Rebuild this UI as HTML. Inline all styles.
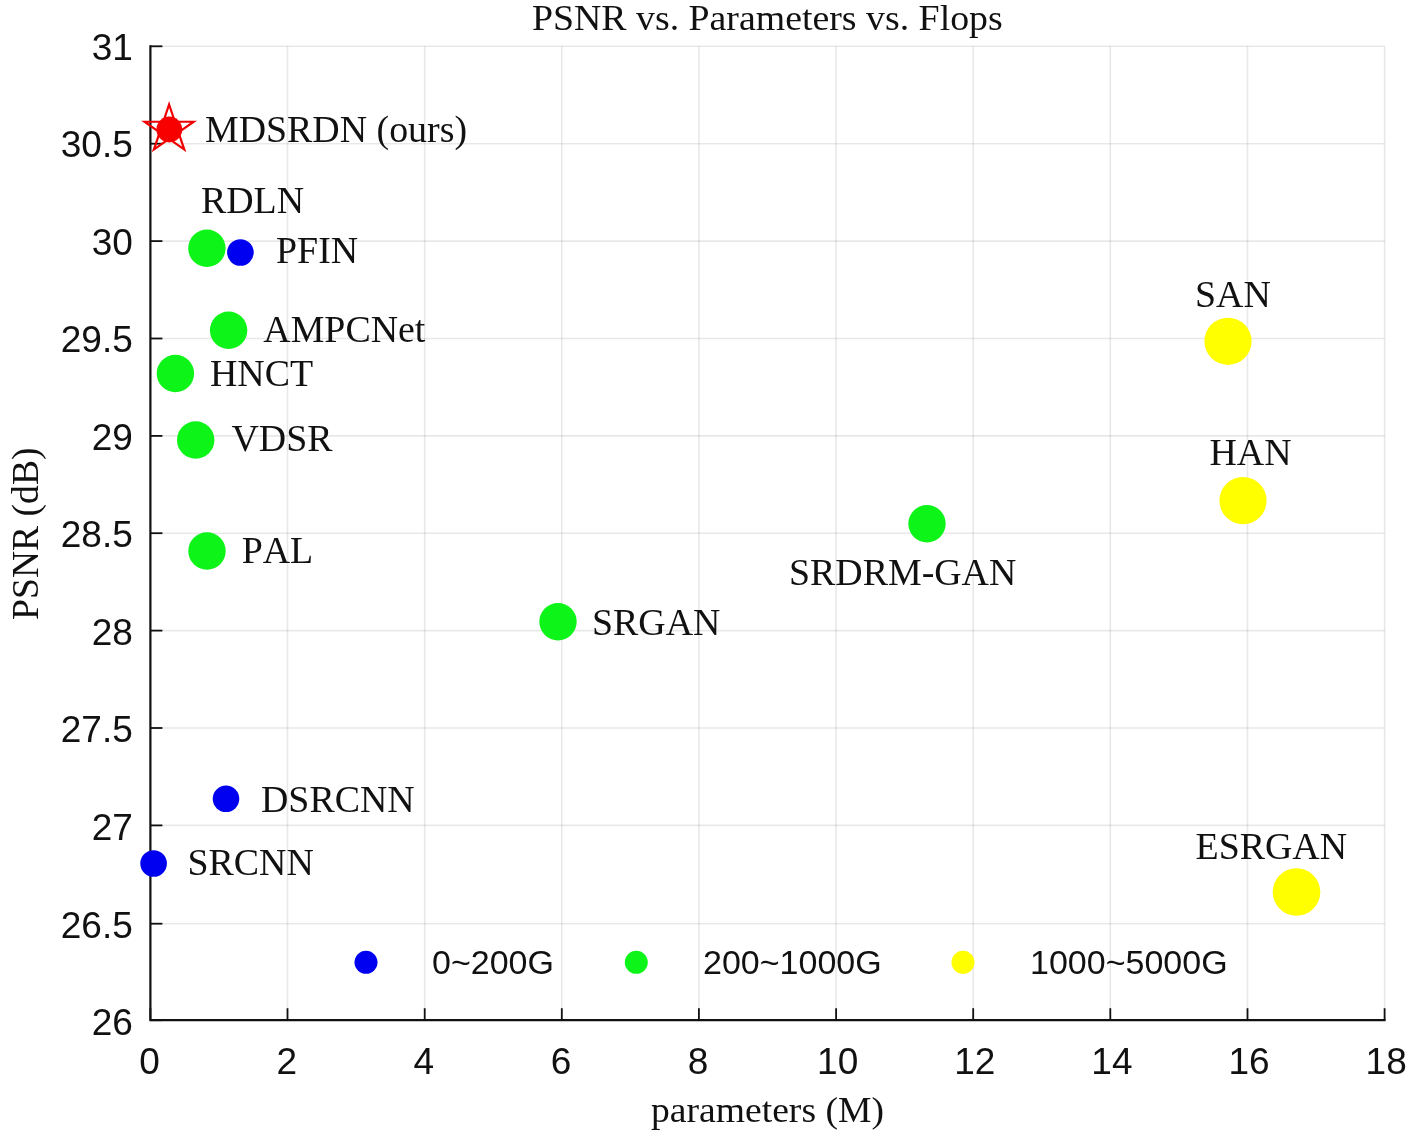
<!DOCTYPE html><html><head><meta charset="utf-8"><title>PSNR vs. Parameters vs. Flops</title>
<style>html,body{margin:0;padding:0;background:#fff;}svg{display:block;}text{font-kerning:none;}.s{font-family:"Liberation Serif",serif;fill:#111;}.a{font-family:"Liberation Sans",sans-serif;fill:#111;}</style></head><body>
<svg width="1417" height="1140" viewBox="0 0 1417 1140">
<rect width="1417" height="1140" fill="#fff"/>
<line x1="287.5" y1="46.3" x2="287.5" y2="1020.2" stroke="#000" stroke-opacity="0.09" stroke-width="1.6"/>
<line x1="424.7" y1="46.3" x2="424.7" y2="1020.2" stroke="#000" stroke-opacity="0.09" stroke-width="1.6"/>
<line x1="561.8" y1="46.3" x2="561.8" y2="1020.2" stroke="#000" stroke-opacity="0.09" stroke-width="1.6"/>
<line x1="698.9" y1="46.3" x2="698.9" y2="1020.2" stroke="#000" stroke-opacity="0.09" stroke-width="1.6"/>
<line x1="836.1" y1="46.3" x2="836.1" y2="1020.2" stroke="#000" stroke-opacity="0.09" stroke-width="1.6"/>
<line x1="973.2" y1="46.3" x2="973.2" y2="1020.2" stroke="#000" stroke-opacity="0.09" stroke-width="1.6"/>
<line x1="1110.3" y1="46.3" x2="1110.3" y2="1020.2" stroke="#000" stroke-opacity="0.09" stroke-width="1.6"/>
<line x1="1247.5" y1="46.3" x2="1247.5" y2="1020.2" stroke="#000" stroke-opacity="0.09" stroke-width="1.6"/>
<line x1="1384.6" y1="46.3" x2="1384.6" y2="1020.2" stroke="#000" stroke-opacity="0.09" stroke-width="1.6"/>
<line x1="150.4" y1="923.7" x2="1384.6" y2="923.7" stroke="#000" stroke-opacity="0.09" stroke-width="1.6"/>
<line x1="150.4" y1="825.4" x2="1384.6" y2="825.4" stroke="#000" stroke-opacity="0.09" stroke-width="1.6"/>
<line x1="150.4" y1="728.0" x2="1384.6" y2="728.0" stroke="#000" stroke-opacity="0.09" stroke-width="1.6"/>
<line x1="150.4" y1="630.6" x2="1384.6" y2="630.6" stroke="#000" stroke-opacity="0.09" stroke-width="1.6"/>
<line x1="150.4" y1="533.2" x2="1384.6" y2="533.2" stroke="#000" stroke-opacity="0.09" stroke-width="1.6"/>
<line x1="150.4" y1="435.9" x2="1384.6" y2="435.9" stroke="#000" stroke-opacity="0.09" stroke-width="1.6"/>
<line x1="150.4" y1="338.5" x2="1384.6" y2="338.5" stroke="#000" stroke-opacity="0.09" stroke-width="1.6"/>
<line x1="150.4" y1="241.1" x2="1384.6" y2="241.1" stroke="#000" stroke-opacity="0.09" stroke-width="1.6"/>
<line x1="150.4" y1="143.7" x2="1384.6" y2="143.7" stroke="#000" stroke-opacity="0.09" stroke-width="1.6"/>
<line x1="150.4" y1="46.3" x2="1384.6" y2="46.3" stroke="#000" stroke-opacity="0.09" stroke-width="1.6"/>
<path d="M150.4 45.3 V1020.2 H1385.6" fill="none" stroke="#111" stroke-width="2.2"/>
<line x1="150.4" y1="1020.2" x2="150.4" y2="1008.2" stroke="#111" stroke-width="1.8"/>
<line x1="287.5" y1="1020.2" x2="287.5" y2="1008.2" stroke="#111" stroke-width="1.8"/>
<line x1="424.7" y1="1020.2" x2="424.7" y2="1008.2" stroke="#111" stroke-width="1.8"/>
<line x1="561.8" y1="1020.2" x2="561.8" y2="1008.2" stroke="#111" stroke-width="1.8"/>
<line x1="698.9" y1="1020.2" x2="698.9" y2="1008.2" stroke="#111" stroke-width="1.8"/>
<line x1="836.1" y1="1020.2" x2="836.1" y2="1008.2" stroke="#111" stroke-width="1.8"/>
<line x1="973.2" y1="1020.2" x2="973.2" y2="1008.2" stroke="#111" stroke-width="1.8"/>
<line x1="1110.3" y1="1020.2" x2="1110.3" y2="1008.2" stroke="#111" stroke-width="1.8"/>
<line x1="1247.5" y1="1020.2" x2="1247.5" y2="1008.2" stroke="#111" stroke-width="1.8"/>
<line x1="1384.6" y1="1020.2" x2="1384.6" y2="1008.2" stroke="#111" stroke-width="1.8"/>
<line x1="150.4" y1="1020.2" x2="162.4" y2="1020.2" stroke="#111" stroke-width="1.8"/>
<line x1="150.4" y1="923.7" x2="162.4" y2="923.7" stroke="#111" stroke-width="1.8"/>
<line x1="150.4" y1="825.4" x2="162.4" y2="825.4" stroke="#111" stroke-width="1.8"/>
<line x1="150.4" y1="728.0" x2="162.4" y2="728.0" stroke="#111" stroke-width="1.8"/>
<line x1="150.4" y1="630.6" x2="162.4" y2="630.6" stroke="#111" stroke-width="1.8"/>
<line x1="150.4" y1="533.2" x2="162.4" y2="533.2" stroke="#111" stroke-width="1.8"/>
<line x1="150.4" y1="435.9" x2="162.4" y2="435.9" stroke="#111" stroke-width="1.8"/>
<line x1="150.4" y1="338.5" x2="162.4" y2="338.5" stroke="#111" stroke-width="1.8"/>
<line x1="150.4" y1="241.1" x2="162.4" y2="241.1" stroke="#111" stroke-width="1.8"/>
<line x1="150.4" y1="143.7" x2="162.4" y2="143.7" stroke="#111" stroke-width="1.8"/>
<line x1="150.4" y1="46.3" x2="162.4" y2="46.3" stroke="#111" stroke-width="1.8"/>
<text class="a" x="149.6" y="1074" font-size="37" text-anchor="middle">0</text>
<text class="a" x="286.7" y="1074" font-size="37" text-anchor="middle">2</text>
<text class="a" x="423.9" y="1074" font-size="37" text-anchor="middle">4</text>
<text class="a" x="561.0" y="1074" font-size="37" text-anchor="middle">6</text>
<text class="a" x="698.1" y="1074" font-size="37" text-anchor="middle">8</text>
<text class="a" x="837.7" y="1074" font-size="37" text-anchor="middle">10</text>
<text class="a" x="974.8" y="1074" font-size="37" text-anchor="middle">12</text>
<text class="a" x="1111.9" y="1074" font-size="37" text-anchor="middle">14</text>
<text class="a" x="1249.1" y="1074" font-size="37" text-anchor="middle">16</text>
<text class="a" x="1386.2" y="1074" font-size="37" text-anchor="middle">18</text>
<text class="a" x="132.8" y="1035.0" font-size="37" text-anchor="end">26</text>
<text class="a" x="132.8" y="938.4" font-size="37" text-anchor="end">26.5</text>
<text class="a" x="132.8" y="840.0" font-size="37" text-anchor="end">27</text>
<text class="a" x="132.8" y="742.4" font-size="37" text-anchor="end">27.5</text>
<text class="a" x="132.8" y="644.9" font-size="37" text-anchor="end">28</text>
<text class="a" x="132.8" y="547.4" font-size="37" text-anchor="end">28.5</text>
<text class="a" x="132.8" y="449.9" font-size="37" text-anchor="end">29</text>
<text class="a" x="132.8" y="352.4" font-size="37" text-anchor="end">29.5</text>
<text class="a" x="132.8" y="254.8" font-size="37" text-anchor="end">30</text>
<text class="a" x="132.8" y="157.3" font-size="37" text-anchor="end">30.5</text>
<text class="a" x="132.8" y="59.8" font-size="37" text-anchor="end">31</text>
<text class="s" transform="translate(767.3,30.3) scale(1.072,1)" font-size="35.3" text-anchor="middle">PSNR vs. Parameters vs. Flops</text>
<text class="s" transform="translate(767.5,1122) scale(1.075,1)" font-size="35" text-anchor="middle">parameters (M)</text>
<text class="s" transform="translate(38,533.7) rotate(-90) scale(1.0165,1)" font-size="37" text-anchor="middle">PSNR (dB)</text>
<circle cx="206.9" cy="248.3" r="18.7" fill="#0cf418"/>
<circle cx="240.4" cy="252.5" r="13.3" fill="#0000f0"/>
<circle cx="228.6" cy="330.3" r="18.7" fill="#0cf418"/>
<circle cx="175.4" cy="373.5" r="18.7" fill="#0cf418"/>
<circle cx="195.7" cy="440" r="18.7" fill="#0cf418"/>
<circle cx="207" cy="551" r="18.7" fill="#0cf418"/>
<circle cx="558" cy="621.7" r="18.7" fill="#0cf418"/>
<circle cx="927" cy="523.7" r="18.7" fill="#0cf418"/>
<circle cx="1228" cy="341.3" r="23.6" fill="#ffff00"/>
<circle cx="1243" cy="500.6" r="23.6" fill="#ffff00"/>
<circle cx="1296.5" cy="892" r="23.8" fill="#ffff00"/>
<circle cx="226" cy="798.8" r="13.3" fill="#0000f0"/>
<circle cx="153.6" cy="863.5" r="13.3" fill="#0000f0"/>
<circle cx="366" cy="962.3" r="11.5" fill="#0000f0"/>
<circle cx="636.3" cy="962.3" r="11.5" fill="#0cf418"/>
<circle cx="963" cy="962.3" r="11.5" fill="#ffff00"/>
<polygon transform="translate(169.1,129.4) scale(1,0.96)" points="0.0,-25.9 5.8,-8.0 24.6,-8.0 9.4,3.1 15.2,21.0 0.0,9.9 -15.2,21.0 -9.4,3.1 -24.6,-8.0 -5.8,-8.0" fill="none" stroke="#f00000" stroke-width="2.2"/>
<circle cx="169.3" cy="129.5" r="12.9" fill="#f80000"/>
<text class="s" transform="translate(205,142) scale(1.024,1)" font-size="37">MDSRDN (ours)</text>
<text class="s" transform="translate(201,213) scale(1.024,1)" font-size="37">RDLN</text>
<text class="s" transform="translate(276,263) scale(1.024,1)" font-size="37">PFIN</text>
<text class="s" transform="translate(263.3,342) scale(1.024,1)" font-size="37">AMPCNet</text>
<text class="s" transform="translate(210,386) scale(1.024,1)" font-size="37">HNCT</text>
<text class="s" transform="translate(231.5,451) scale(1.024,1)" font-size="37">VDSR</text>
<text class="s" transform="translate(241.7,563) scale(1.024,1)" font-size="37">PAL</text>
<text class="s" transform="translate(592,634.8) scale(1.024,1)" font-size="37">SRGAN</text>
<text class="s" transform="translate(789,585) scale(1.024,1)" font-size="37">SRDRM-GAN</text>
<text class="s" transform="translate(1195,306.5) scale(1.024,1)" font-size="37">SAN</text>
<text class="s" transform="translate(1209.5,464.7) scale(1.024,1)" font-size="37">HAN</text>
<text class="s" transform="translate(1195.5,859.2) scale(1.024,1)" font-size="37">ESRGAN</text>
<text class="s" transform="translate(261,811.8) scale(1.024,1)" font-size="37">DSRCNN</text>
<text class="s" transform="translate(187.5,875) scale(1.024,1)" font-size="37">SRCNN</text>
<text class="a" x="432" y="974" font-size="34">0~200G</text>
<text class="a" x="703" y="974" font-size="34">200~1000G</text>
<text class="a" x="1030" y="974" font-size="34">1000~5000G</text>
</svg></body></html>
